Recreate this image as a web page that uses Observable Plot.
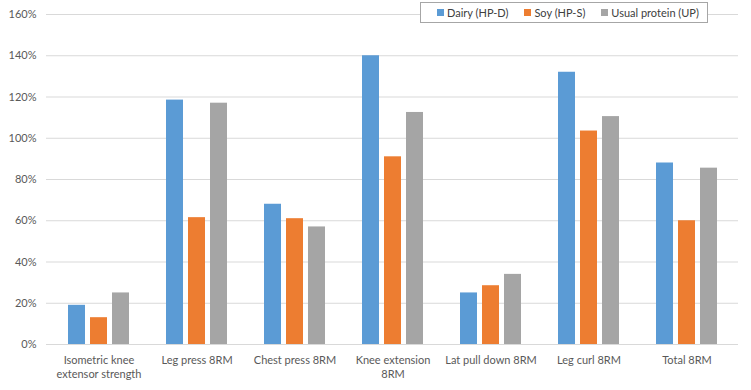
<!DOCTYPE html>
<html><head><meta charset="utf-8">
<script src="https://cdn.jsdelivr.net/npm/d3@7"></script>
<script src="https://cdn.jsdelivr.net/npm/@observablehq/plot@0.6"></script>
<style>
body{margin:0;background:#fff;font-family:Lato,"Open Sans",sans-serif;}
#wrap{position:relative;width:751px;height:390px;}
#wrap svg{position:absolute;left:0;top:0;}
#legend{position:absolute;left:420px;top:2px;width:288px;height:21px;border:1px solid #a6a6a6;background:#fff;display:flex;align-items:center;font-size:11px;color:#404040;box-sizing:border-box;padding-left:16px;white-space:nowrap;}
#legend .it{display:flex;align-items:center;margin-right:16px;flex-shrink:0;}
#legend .sw{width:7px;height:7px;margin-right:3px;}
</style></head>
<body><div id="wrap"><div id="legend"></div></div>
<script>
const categories = ["Isometric knee extensor strength","Leg press 8RM","Chest press 8RM","Knee extension 8RM","Lat pull down 8RM","Leg curl 8RM","Total 8RM"];
const tickLabels = ["Isometric knee\nextensor strength","Leg press 8RM","Chest press 8RM","Knee extension\n8RM","Lat pull down 8RM","Leg curl 8RM","Total 8RM"];
const series = ["Dairy (HP-D)","Soy (HP-S)","Usual protein (UP)"];
const dairy = [19,118.5,68,140,25,132,88];
const soy = [13,61.5,61,91,28.5,103.5,60];
const usual = [25,117,57,112.5,34,110.5,85.5];
const yTicks = [0,20,40,60,80,100,120,140,160];
const colors = ["#5B9BD5","#ED7D31","#A5A5A5"];

const values = [dairy, soy, usual];
const rows = [];
categories.forEach((c,i)=>series.forEach((s,j)=>rows.push({cat:c,series:s,value:values[j][i]})));
const labelMap = new Map(categories.map((c,i)=>[c,tickLabels[i]]));

const common = {
  width:751, height:390,
  marginLeft:46, marginRight:13, marginTop:14, marginBottom:46,
  style:{fontFamily:"Lato, 'Open Sans', sans-serif", fontSize:"11px", color:"#595959", background:"transparent"}
};

const back = Plot.plot({
  ...common,
  x:{domain:[0,1], axis:null},
  y:{domain:[0,160], ticks:yTicks, tickFormat:d=>d+"%", label:null, tickSize:0, tickPadding:10},
  marks:[
    Plot.ruleY(yTicks, {stroke:"#d9d9d9", strokeWidth:1})
  ]
});

const front = Plot.plot({
  ...common,
  fx:{domain:categories, paddingInner:0.38, paddingOuter:0.19, label:null},
  x:{domain:series, paddingInner:0.23, paddingOuter:0, axis:null},
  y:{domain:[0,160], axis:null},
  color:{domain:series, range:colors},
  marks:[
    Plot.barY(rows, {fx:"cat", x:"series", y:"value", fill:"series"}),
    Plot.axisFx({anchor:"bottom", label:null, tickSize:0, tickPadding:9, lineHeight:1.28, tickFormat:d=>labelMap.get(d), fill:"#595959"})
  ]
});
const wrap = document.getElementById("wrap");
wrap.prepend(front);
wrap.prepend(back);
const lg = document.getElementById("legend");
series.forEach((s,j)=>{
  const it=document.createElement("div");it.className="it";
  it.innerHTML=`<span class="sw" style="background:${colors[j]}"></span><span>${s}</span>`;
  lg.appendChild(it);
});
</script></body></html>
